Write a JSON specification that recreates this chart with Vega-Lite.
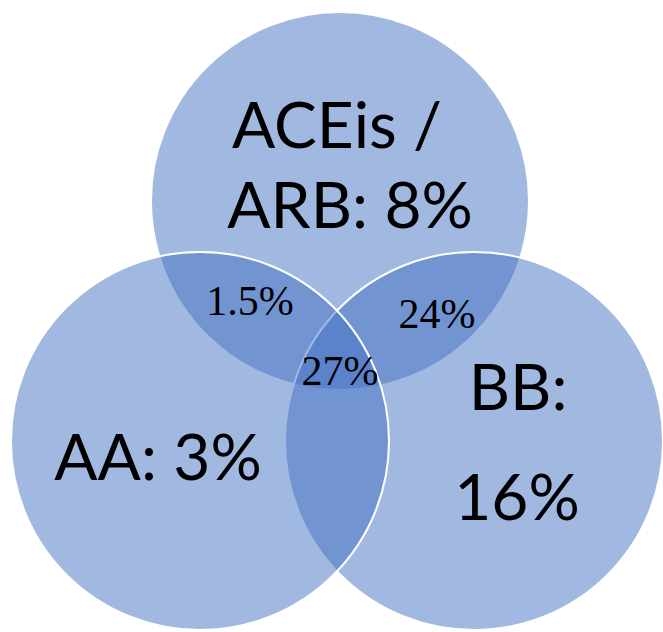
{
  "$schema": "https://vega.github.io/schema/vega-lite/v6.json",
  "width": 663,
  "height": 632,
  "padding": 0,
  "autosize": {"type": "none"},
  "background": "white",
  "config": {"view": {"stroke": null}},
  "datasets": {
    "sets": [
      {"set": "ACEis / ARB", "cx": 340, "cy": 201},
      {"set": "BB", "cx": 474, "cy": 441},
      {"set": "AA", "cx": 200, "cy": 441}
    ],
    "regions": [
      {"label": "ACEis /", "px": 337, "py": 148},
      {"label": "ARB: 8%", "px": 350, "py": 228},
      {"label": "AA: 3%", "px": 158, "py": 480},
      {"label": "BB:", "px": 518, "py": 410},
      {"label": "16%", "px": 517, "py": 520}
    ],
    "overlaps": [
      {"label": "1.5%", "px": 250, "py": 315},
      {"label": "24%", "px": 437, "py": 328},
      {"label": "27%", "px": 340, "py": 385}
    ]
  },
  "layer": [
    {
      "data": {"name": "sets"},
      "mark": {"type": "point", "shape": "circle", "filled": true, "size": 142884, "fill": "#4472C4", "fillOpacity": 0.5, "stroke": "white", "strokeWidth": 2, "strokeOpacity": 1, "opacity": 1},
      "encoding": {
        "x": {"field": "cx", "type": "quantitative", "scale": {"domain": [0, 663], "nice": false, "zero": false}, "axis": null},
        "y": {"field": "cy", "type": "quantitative", "scale": {"domain": [0, 632], "nice": false, "zero": false, "reverse": true}, "axis": null}
      }
    },
    {
      "data": {"name": "regions"},
      "mark": {"type": "text", "font": "Lato", "fontSize": 64, "color": "black", "align": "center", "baseline": "alphabetic"},
      "encoding": {
        "x": {"field": "px", "type": "quantitative"},
        "y": {"field": "py", "type": "quantitative"},
        "text": {"field": "label"}
      }
    },
    {
      "data": {"name": "overlaps"},
      "mark": {"type": "text", "font": "Liberation Serif", "fontSize": 42, "color": "black", "align": "center", "baseline": "alphabetic"},
      "encoding": {
        "x": {"field": "px", "type": "quantitative"},
        "y": {"field": "py", "type": "quantitative"},
        "text": {"field": "label"}
      }
    }
  ]
}
